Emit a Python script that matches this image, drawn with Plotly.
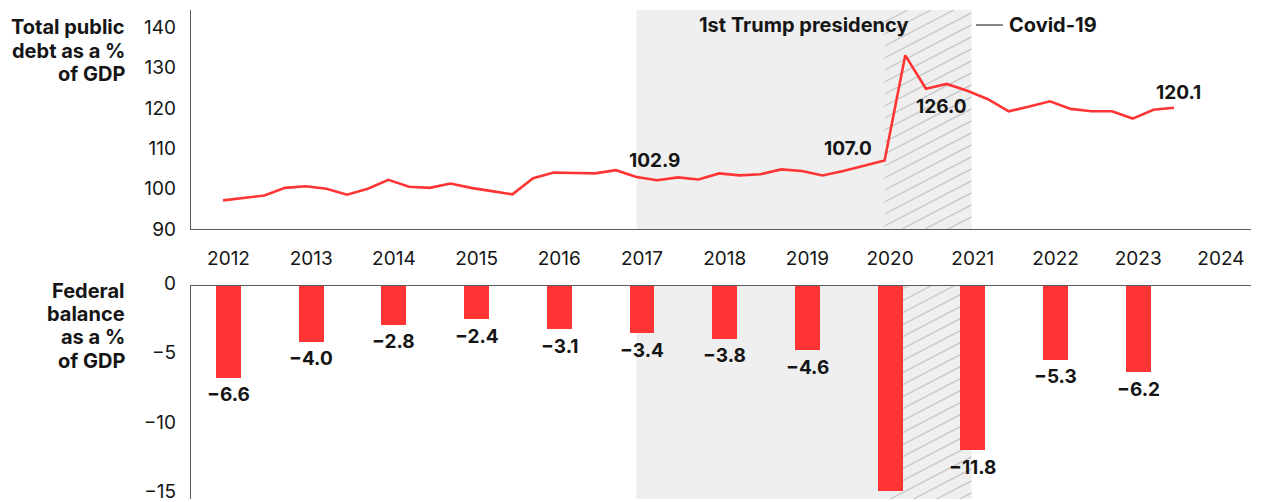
import plotly.graph_objects as go

# Quarterly total public debt, % of GDP (2012 Q1 onwards)
debt_start_year = 2012
debt_pct = [97.1, 97.7, 98.3, 100.2, 100.6, 100.0, 98.5, 100.0,
            102.2, 100.5, 100.2, 101.3, 100.2, 99.4, 98.6, 102.6,
            104.0, 103.9, 103.8, 104.6, 102.9, 102.1, 102.8, 102.3,
            103.8, 103.3, 103.6, 104.8, 104.4, 103.3, 104.4, 105.7,
            107.0, 133.1, 124.8, 126.0, 124.3, 122.2, 119.2, 120.4,
            121.7, 119.8, 119.2, 119.2, 117.4, 119.6, 120.1]

# Annual federal balance, % of GDP
years = [2012, 2013, 2014, 2015, 2016, 2017, 2018, 2019, 2020, 2021, 2022, 2023]
balance_pct = [-6.6, -4.0, -2.8, -2.4, -3.1, -3.4, -3.8, -4.6, -14.7, -11.8, -5.3, -6.2]

year_ticks = list(range(2012, 2025))
debt_ticks = [90, 100, 110, 120, 130, 140]
balance_ticks = [0, -5, -10, -15]

# Highlighted periods
trump_term = (2017.0, 2021.05)
covid_period = (2020.0, 2021.05)

# Panel titles, one entry per line
debt_title = ["Total public", "debt as a %", "of GDP"]
balance_title = ["Federal", "balance", "as a %", "of GDP"]

# Debt points to annotate: quarter index -> (xshift, yshift)
debt_callouts = {20: (18, 17), 32: (-37, 12), 35: (-5, -23), 46: (4, 15)}

RED = "#ff3535"
INK = "#151515"
AXIS = "#5a5a5a"
SHADE = "#efefef"
FONT = "Inter"

W, H = 1263, 502
ML, MR, MT, MB = 191, 12, 10, 3
PW, PH = W - ML - MR, H - MT - MB

# pixel layout of the two panels
top_px = (10, 229)
bot_px = (286, 499)
px_per_year = 82.7
top_x0 = 2012 - (223 - ML) / px_per_year
bot_x0 = 2012 - (228.5 - ML) / px_per_year
top_xr = [top_x0, top_x0 + PW / px_per_year]
bot_xr = [bot_x0, bot_x0 + PW / px_per_year]


def paper_y(py):
    return (H - MB - py) / PH


def paper_x(px):
    return (px - ML) / PW


def px_x(x):
    return ML + (x - top_xr[0]) / (top_xr[1] - top_xr[0]) * PW


top_dom = [paper_y(top_px[1]), paper_y(top_px[0])]
bot_dom = [0, paper_y(bot_px[0])]
debt_top = 90 + (top_px[1] - top_px[0]) / 4.03
balance_bottom = -15.3

debt_x = [debt_start_year + i * 0.25 for i in range(len(debt_pct))]

fig = go.Figure()

fig.add_trace(go.Scatter(
    x=debt_x, y=debt_pct, mode="lines",
    line=dict(color=RED, width=2.6),
    xaxis="x", yaxis="y", hoverinfo="skip", showlegend=False,
))

fig.add_trace(go.Bar(
    x=years, y=balance_pct, width=0.302,
    marker=dict(color=RED, line=dict(width=0)),
    xaxis="x2", yaxis="y2", hoverinfo="skip", showlegend=False,
))

shapes = []
# shaded presidency band on both panels
for yref in ("y domain", "y2 domain"):
    shapes.append(dict(type="rect", xref="x", yref=yref,
                       x0=trump_term[0], x1=trump_term[1], y0=0, y1=1,
                       fillcolor=SHADE, line=dict(width=0), layer="below"))

# diagonal hatching for the Covid period
slope, gap = 0.52, 12
xa, xb = px_x(covid_period[0]), px_x(covid_period[1])
for ya, yb in (top_px, bot_px):
    c = ya
    while c < yb + slope * (xb - xa):
        xs = max(xa, xa + (c - yb) / slope)
        xe = min(xb, xa + (c - ya) / slope)
        if xs < xe:
            ys = c - slope * (xs - xa)
            ye = c - slope * (xe - xa)
            shapes.append(dict(type="line", xref="paper", yref="paper",
                               x0=paper_x(xs), x1=paper_x(xe),
                               y0=paper_y(ys), y1=paper_y(ye),
                               line=dict(color="#c4c4c4", width=1.2),
                               layer="below"))
        c += gap

# legend key for the hatching
shapes.append(dict(type="line", xref="paper", yref="paper",
                   x0=paper_x(976), x1=paper_x(1003),
                   y0=paper_y(25), y1=paper_y(25),
                   line=dict(color=INK, width=1)))

bold = dict(family=FONT, size=20, color=INK, weight=700)
value_font = dict(family=FONT, size=19, color=INK, weight=700)
annotations = [
    dict(text="1st Trump presidency", xref="x", yref="paper",
         x=(trump_term[0] + trump_term[1]) / 2, y=paper_y(25),
         showarrow=False, font=bold, xanchor="center", yanchor="middle"),
    dict(text="Covid-19", xref="paper", yref="paper",
         x=paper_x(1007), y=paper_y(25), showarrow=False,
         font=bold, xanchor="left", yanchor="middle"),
]

line_gap = 23.3
for title, first_py in ((debt_title, 27.5), (balance_title, 290.7)):
    for k, txt in enumerate(title):
        annotations.append(dict(text=txt, xref="paper", yref="paper",
                                x=paper_x(127), y=paper_y(first_py + k * line_gap),
                                showarrow=False, font=bold,
                                xanchor="right", yanchor="middle"))

for i, (dx, dy) in debt_callouts.items():
    annotations.append(dict(text=f"{debt_pct[i]:.1f}", xref="x", yref="y",
                            x=debt_x[i], y=debt_pct[i], xshift=dx, yshift=dy,
                            showarrow=False, font=value_font))

for yr, v in zip(years, balance_pct):
    if v > balance_ticks[-1] + 1.5:
        annotations.append(dict(text=f"{v:.1f}".replace("-", "\u2212"),
                                xref="x2", yref="y2", x=yr, y=v, yshift=-17,
                                showarrow=False, font=value_font))

tick_font = dict(family=FONT, size=19, color=INK)
common = dict(showline=True, linecolor=AXIS, linewidth=1.3, showgrid=False,
              zeroline=False, automargin=False, ticklabeloverflow="allow")

fig.update_layout(
    width=W, height=H,
    margin=dict(l=ML, r=MR, t=MT, b=MB, pad=0, autoexpand=False),
    paper_bgcolor="white", plot_bgcolor="rgba(0,0,0,0)",
    shapes=shapes, annotations=annotations, bargap=0,
    xaxis=dict(domain=[0, 1], range=top_xr, anchor="y",
               showticklabels=False, ticks="", **common),
    yaxis=dict(domain=top_dom, range=[90, debt_top], anchor="x",
               tickvals=debt_ticks, tickfont=tick_font, ticks="outside",
               ticklen=10, tickcolor="rgba(0,0,0,0)", **common),
    xaxis2=dict(domain=[0, 1], range=bot_xr, anchor="y2", side="top",
                tickvals=year_ticks, tickfont=tick_font, ticks="outside",
                ticklen=12, tickcolor="rgba(0,0,0,0)", **common),
    yaxis2=dict(domain=bot_dom, range=[balance_bottom, 0], anchor="x2",
                tickvals=balance_ticks, tickfont=tick_font, ticks="outside",
                ticklen=10, tickcolor="rgba(0,0,0,0)", ticklabelshift=-3,
                **common),
)

fig.write_html("out.html")
